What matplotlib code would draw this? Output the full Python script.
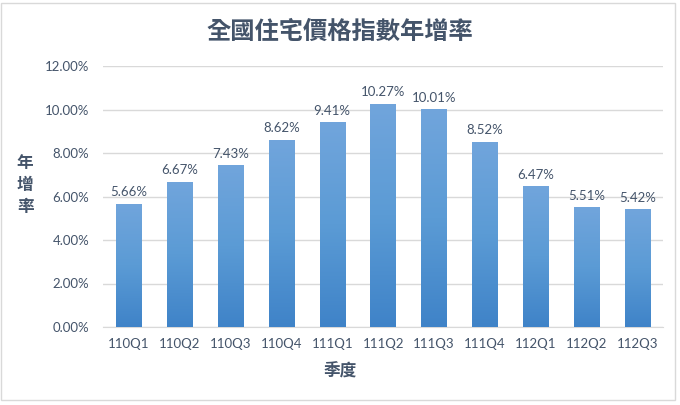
import numpy as np
import matplotlib
matplotlib.use('Agg')
import matplotlib.pyplot as plt
from matplotlib.colors import LinearSegmentedColormap
from matplotlib.patches import Rectangle

quarters = ['110Q1', '110Q2', '110Q3', '110Q4', '111Q1', '111Q2',
            '111Q3', '111Q4', '112Q1', '112Q2', '112Q3']
growth = [5.66, 6.67, 7.43, 8.62, 9.41, 10.27, 10.01, 8.52, 6.47, 5.51, 5.42]

plt.rcParams['font.family'] = ['Lato', 'Noto Sans CJK TC', 'DejaVu Sans']
txt = '#44546A'

fig = plt.figure(figsize=(6.8, 4.05), dpi=100)
ax = fig.add_axes([0.1515, 0.1926, 0.824, 0.6444])

x = np.arange(len(quarters))
w = 0.5
bars = ax.bar(x, growth, width=w, color='none', zorder=3)

# vertical gradient, lighter at top
cmap = LinearSegmentedColormap.from_list('g', ['#3F83C8', '#5B9BD5', '#71A5DC'])
grad = np.linspace(0, 1, 256).reshape(-1, 1)
for b in bars:
    x0, h = b.get_x(), b.get_height()
    im = ax.imshow(grad, cmap=cmap, origin='lower', aspect='auto',
                   extent=(x0, x0 + w, 0, h), zorder=3)
    im.set_clip_path(b)
    ax.text(x0 + w / 2, h + 0.25, '%.2f%%' % h, ha='center', va='bottom',
            fontsize=9.5, color=txt, zorder=4)

ax.set_xlim(-0.5, len(quarters) - 0.5)
ax.set_ylim(0, 12)
ax.set_yticks(np.arange(0, 12.1, 2))
ax.set_yticklabels(['%.2f%%' % v for v in np.arange(0, 12.1, 2)])
ax.set_xticks(x)
ax.set_xticklabels(quarters)
ax.tick_params(axis='both', length=0, labelsize=9.5, labelcolor=txt)
ax.tick_params(axis='x', pad=8)
ax.tick_params(axis='y', pad=10)
ax.grid(axis='y', color='#D9D9D9', linewidth=1, zorder=0)
for s in ['top', 'right', 'left']:
    ax.spines[s].set_visible(False)
ax.spines['bottom'].set_color('#D9D9D9')
ax.set_axisbelow(True)

fig.text(0.5, 0.922, '全國住宅價格指數年增率', ha='center', va='center',
         fontsize=17.5, fontweight='bold', color=txt,
         family=['Noto Sans CJK TC', 'DejaVu Sans'])
fig.text(0.037, 0.543, '年\n增\n率', ha='center', va='center', fontsize=12,
         fontweight='bold', color=txt, linespacing=1.3,
         family=['Noto Sans CJK TC', 'DejaVu Sans'])
fig.text(0.5, 0.082, '季度', ha='center', va='center', fontsize=12,
         fontweight='bold', color=txt,
         family=['Noto Sans CJK TC', 'DejaVu Sans'])

# chart border
fig.patches.append(Rectangle((0.002, 0.012), 0.99, 0.98, transform=fig.transFigure,
                             fill=False, edgecolor='#D9D9D9', linewidth=1))

fig.savefig('out.png', dpi=100)
